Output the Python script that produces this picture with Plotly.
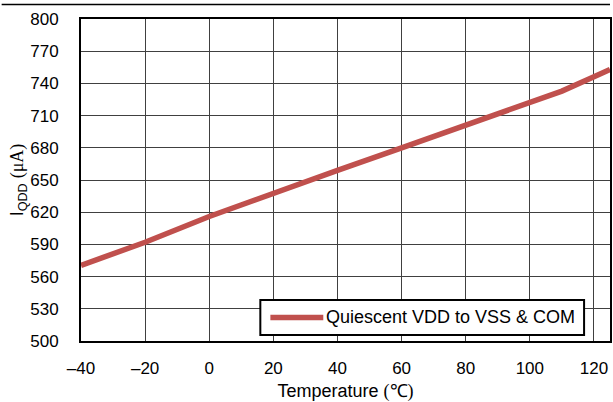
import plotly.graph_objects as go

temperature = [-40, -20, 0, 20, 40, 60, 80, 100, 105, 110, 120, 125]
iqdd = [570.5, 592, 616, 638, 659, 680, 701, 721.5, 726.8, 732.8, 746.3, 753]
series_name = "Quiescent VDD to VSS & COM"

x_ticks = [-40, -20, 0, 20, 40, 60, 80, 100, 120]
x_ticklabels = ["\u201340", "\u201320", "0", "20", "40", "60", "80", "100", "120"]
y_ticks = [500, 530, 560, 590, 620, 650, 680, 710, 740, 770, 800]

font = "Liberation Sans, Arial, sans-serif"
serif = "Liberation Serif, Times New Roman, serif"
red = "#C0504D"

fig = go.Figure()
fig.add_trace(go.Scatter(
    x=temperature, y=iqdd, mode="lines", name=series_name,
    line=dict(color=red, width=5.5), showlegend=False,
))

# custom legend box (line sample + label), placed in paper coordinates
fig.add_shape(type="rect", xref="paper", yref="paper", x0=0.339, x1=0.951,
              y0=0.0186, y1=0.1273, line=dict(color="black", width=2),
              fillcolor="white", layer="above")
fig.add_shape(type="line", xref="paper", yref="paper", x0=0.358, x1=0.458,
              y0=0.073, y1=0.073, line=dict(color=red, width=5.5), layer="above")
fig.add_annotation(xref="paper", yref="paper", x=0.459, y=0.073,
                   xanchor="left", yanchor="middle", showarrow=False,
                   text=series_name, font=dict(size=18, family=font, color="black"))

# rule across the top of the page (thin filled band)
fig.add_shape(type="rect", xref="paper", yref="paper", x0=-0.15, x1=1.0,
              y0=1.043, y1=1.047, line=dict(width=0), fillcolor="black",
              layer="above")

fig.update_layout(
    width=613, height=402,
    margin=dict(l=81, r=1, t=19, b=61),
    paper_bgcolor="white", plot_bgcolor="white",
    font=dict(family=font, size=17, color="black"),
    showlegend=False,
)

fig.update_xaxes(
    range=[-40, 125], tickvals=x_ticks, ticktext=x_ticklabels,
    showgrid=True, gridcolor="#404040", gridwidth=1,
    showline=True, linecolor="black", linewidth=2, mirror=True,
    ticks="", ticklabelstandoff=11, zeroline=False,
    title=dict(text="Temperature <span style=\"font-family:" + serif + "\">(\u2103)</span>",
               font=dict(size=18), standoff=8),
)
fig.update_yaxes(
    range=[500, 800], tickvals=y_ticks,
    showgrid=True, gridcolor="#404040", gridwidth=1,
    showline=True, linecolor="black", linewidth=2, mirror=True,
    ticks="", ticklabelstandoff=17, zeroline=False,
    title=dict(text="I<sub>QDD</sub> <span style=\"font-family:" + serif + "\">(\u03bcA)</span>",
               font=dict(size=18), standoff=2),
)

fig.write_html("out.html", config={"displayModeBar": False},
               post_script="document.body.style.margin='0';")
